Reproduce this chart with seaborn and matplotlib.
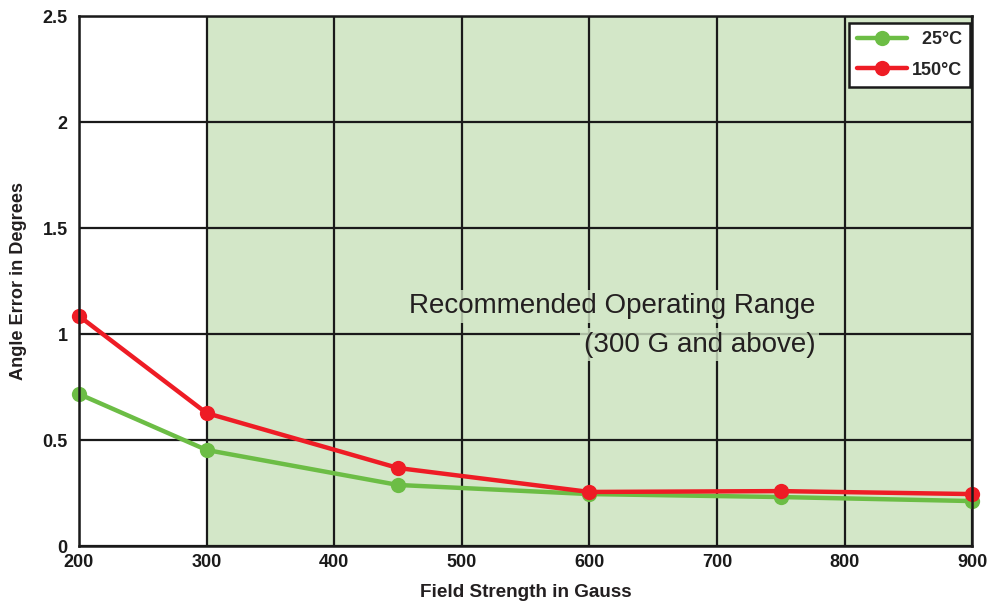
"""Angle error vs field strength."""

import matplotlib
matplotlib.use("Agg")
import matplotlib.pyplot as plt
import seaborn as sns
import pandas as pd

field_gauss = [200, 300, 450, 600, 750, 900]
err_25c = [0.717, 0.453, 0.288, 0.245, 0.231, 0.212]
err_150c = [1.085, 0.627, 0.368, 0.255, 0.259, 0.245]
series_labels = ["25°C", "150°C"]
x_ticks = [200, 300, 400, 500, 600, 700, 800, 900]
y_ticks = [0, 0.5, 1, 1.5, 2, 2.5]
y_tick_labels = ["0", "0.5", "1", "1.5", "2", "2.5"]

GREEN = "#6cbd45"
RED = "#ee1c25"
SHADE = "#d3e7c8"

df = pd.concat([
    pd.DataFrame({"field": field_gauss, "err": err_25c, "temp": series_labels[0]}),
    pd.DataFrame({"field": field_gauss, "err": err_150c, "temp": series_labels[1]}),
])

sns.set_style("white")
plt.rcParams["font.family"] = ["Liberation Sans", "DejaVu Sans"]

fig = plt.figure(figsize=(9.92, 6.04), dpi=100)
ax = fig.add_axes([0.0796, 0.096, 0.9004, 0.8775])

ax.axvspan(300, 900, color=SHADE, zorder=1, lw=0)

sns.lineplot(data=df, x="field", y="err", hue="temp",
             palette={series_labels[0]: GREEN, series_labels[1]: RED},
             marker="o", markersize=11, markeredgewidth=0, linewidth=3.2,
             clip_on=False, ax=ax, zorder=2)

ax.set_xlim(200, 900)
ax.set_ylim(0, 2.5)
ax.set_xticks(x_ticks)
ax.set_yticks(y_ticks)
ax.set_yticklabels(y_tick_labels)
ax.set_axisbelow("line")
ax.grid(True, color="#1a1a1a", lw=1.6, zorder=1.5)
for s in ax.spines.values():
    s.set_color("#1a1a1a")
    s.set_linewidth(1.8)
    s.set_visible(True)
ax.tick_params(axis="both", length=0, labelsize=13, colors="#1a1a1a")
ax.tick_params(axis="x", pad=6)
ax.tick_params(axis="y", pad=8)
for lab in ax.get_xticklabels() + ax.get_yticklabels():
    lab.set_fontweight("bold")

ax.set_xlabel("Field Strength in Gauss", fontsize=13.6, fontweight="bold",
              labelpad=9, color="#231f20")
ax.set_ylabel("Angle Error in Degrees", fontsize=13.1, fontweight="bold",
              labelpad=11, color="#231f20")

box = dict(boxstyle="square,pad=0.12", fc=SHADE, ec="none", alpha=0.8)
ax.text(777, 1.13, "Recommended Operating Range", ha="right", va="center",
        fontsize=20, color="#231f20", bbox=box, zorder=3)
ax.text(777, 0.95, "(300 G and above)", ha="right", va="center",
        fontsize=20, color="#231f20", bbox=box, zorder=3)

handles, labels = ax.get_legend_handles_labels()
leg = ax.legend(handles, ["  25°C", "150°C"], loc="upper right",
                bbox_to_anchor=(0.9978, 0.9868), borderaxespad=0,
                frameon=True, fancybox=False,
                edgecolor="#1a1a1a", framealpha=1, handlelength=2.8,
                borderpad=0.45, labelspacing=0.75, handletextpad=0.25,
                prop={"weight": "bold", "size": 13})
leg.get_frame().set_linewidth(1.8)

fig.savefig("out.png", dpi=100)
